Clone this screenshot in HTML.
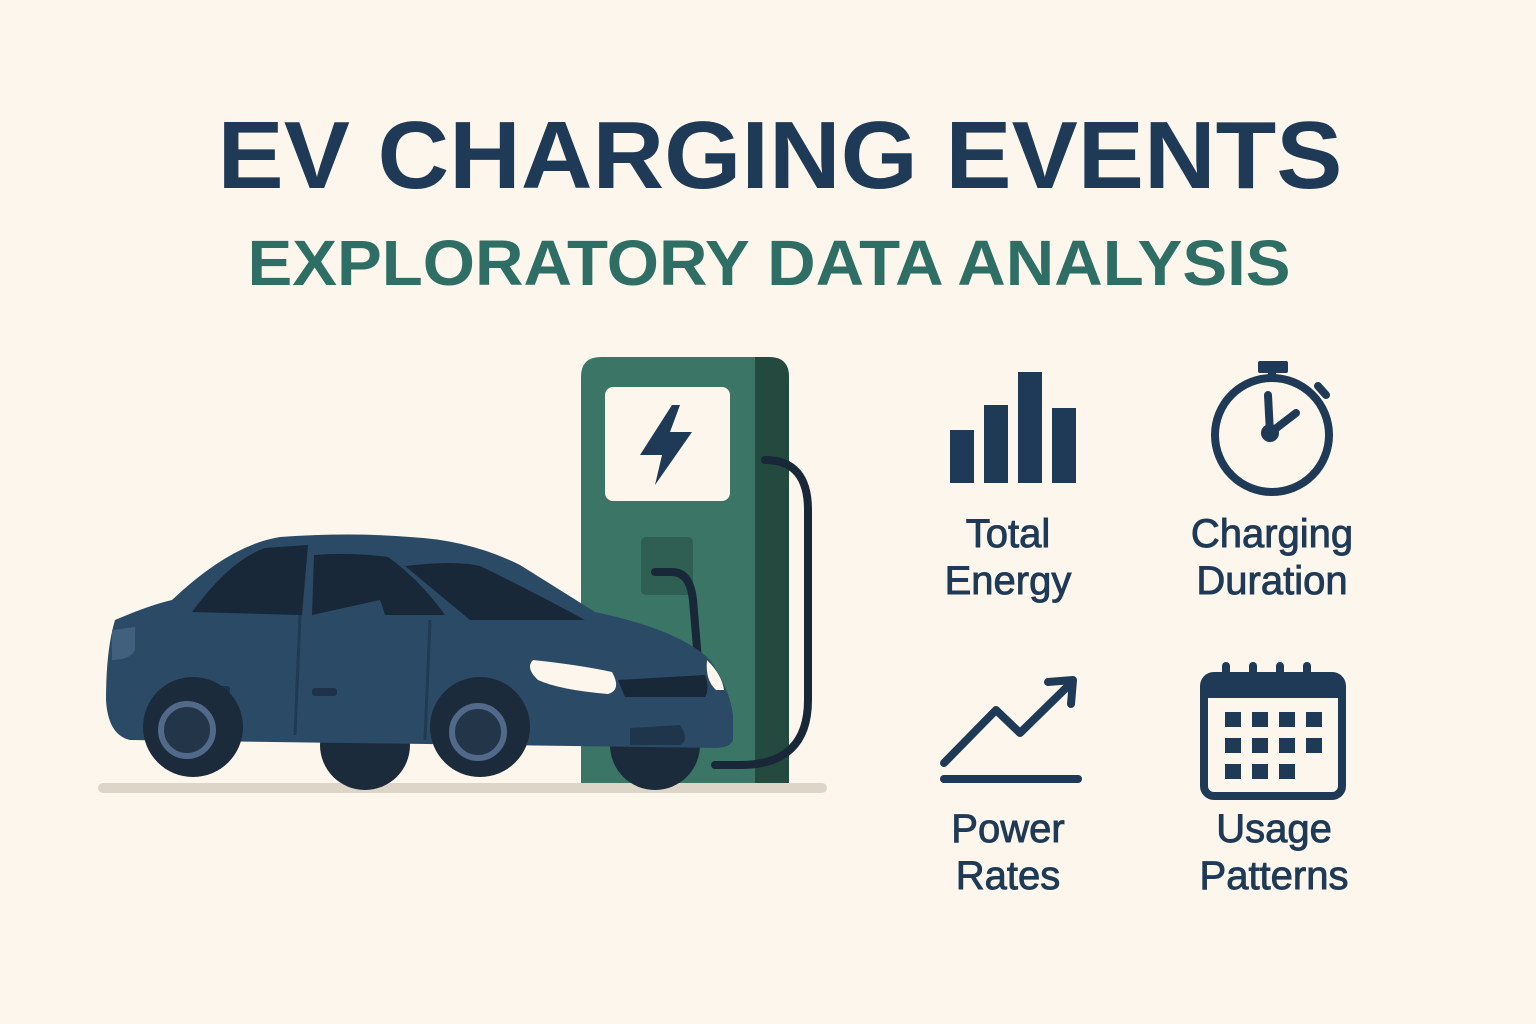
<!DOCTYPE html>
<html><head><meta charset="utf-8"><style>
body{margin:0;background:#fcf6ec;}
svg{display:block}
text{font-family:"Liberation Sans","DejaVu Sans",sans-serif}
.lbl{stroke:#1f3a56;stroke-width:0.9px}
</style></head><body>
<svg width="1536" height="1024" viewBox="0 0 1536 1024">
<rect width="1536" height="1024" fill="#fcf6ec"/>
<text x="780" y="188" text-anchor="middle" font-size="96" font-weight="bold" fill="#1f3a56" textLength="1125" lengthAdjust="spacingAndGlyphs">EV CHARGING EVENTS</text>
<text x="769" y="285" text-anchor="middle" font-size="64" font-weight="bold" fill="#2f6e64" textLength="1043" lengthAdjust="spacingAndGlyphs">EXPLORATORY DATA ANALYSIS</text>

<rect x="98" y="783" width="729" height="10" rx="5" fill="#ddd6c8"/>

<g>
<path d="M601 357 H769 Q789 357 789 377 V783 H581 V377 Q581 357 601 357Z" fill="#3a7566"/>
<path d="M755 357 H769 Q789 357 789 377 V783 H755Z" fill="#24493f"/>
<rect x="605" y="387" width="125" height="114" rx="8" fill="#fcf6ec"/>
<path d="M672 405 L640 455 L662 455 L655 485 L692 432 L670 432 L680 405Z" fill="#1f3a56"/>
<rect x="641" y="537" width="52" height="58" rx="5" fill="#2e5f52"/>
<path d="M655 572 H672 Q690 572 693 600 L698 660" fill="none" stroke="#182838" stroke-width="8" stroke-linecap="round"/>
<path d="M765 460 Q808 460 808 510 V700 Q808 765 740 765 L715 765" fill="none" stroke="#182838" stroke-width="8" stroke-linecap="round"/>
</g>

<g>
<circle cx="365" cy="745" r="45" fill="#1b2b3b"/>
<circle cx="655" cy="745" r="45" fill="#1b2b3b"/>
<path d="M115 620 Q150 605 172 600 Q230 545 280 537 Q350 532 410 537 Q470 540 520 565 Q560 590 595 612 Q680 630 710 660 Q730 690 733 715 L733 740 Q730 748 715 748 L130 740 Q108 735 106 700 Q106 650 115 620Z" fill="#2b4a66"/>
<path d="M192 612 Q230 560 265 548 L308 545 L302 615Z" fill="#182838"/>
<path d="M314 555 Q350 552 388 557 Q420 580 445 615 L385 615 Q382 605 380 600 L312 615Z" fill="#182838"/>
<path d="M405 566 Q455 560 480 566 Q530 590 585 620 L470 620Z" fill="#182838"/>
<path d="M300 615 L295 735 M430 620 L425 740" stroke="#203a52" stroke-width="3" fill="none"/>
<rect x="205" y="686" width="25" height="8" rx="3" fill="#1e3349"/>
<rect x="312" y="688" width="25" height="8" rx="3" fill="#1e3349"/>
<path d="M533 660 Q580 665 612 672 Q622 690 608 694 Q560 690 538 680 Q525 668 533 660Z" fill="#fcf6ec"/>
<path d="M707 660 Q722 675 724 690 L716 690 Q705 680 707 660Z" fill="#fcf6ec"/>
<path d="M618 680 L705 675 Q710 688 705 697 L625 697Z" fill="#182838"/>
<path d="M112 630 L135 627 L135 650 Q130 660 112 660Z" fill="#40607e"/>
<path d="M630 728 L680 725 Q690 740 680 745 L630 745Z" fill="#1f354c"/>
<circle cx="193" cy="727" r="50" fill="#1b2b3b"/>
<circle cx="187" cy="730" r="26" fill="#233548" stroke="#52698a" stroke-width="6"/>
<circle cx="480" cy="727" r="50" fill="#1b2b3b"/>
<circle cx="478" cy="732" r="26" fill="#233548" stroke="#52698a" stroke-width="6"/>
</g>

<g fill="#1f3a56" id="bars"></g>
<text class="lbl" x="1008" y="547" text-anchor="middle" font-size="40" fill="#1f3a56">Total</text>
<text class="lbl" x="1008" y="594" text-anchor="middle" font-size="40" fill="#1f3a56">Energy</text>

<g stroke="#1f3a56" fill="none" stroke-width="8" stroke-linecap="round">
<circle cx="1272" cy="435" r="57"/>
<rect x="1258" y="361" width="30" height="12" rx="2" fill="#1f3a56" stroke="none"/>
<line x1="1272" y1="373" x2="1272" y2="378"/>
<line x1="1318" y1="386" x2="1326" y2="395"/>
<line x1="1270" y1="433" x2="1268" y2="395"/>
<line x1="1270" y1="433" x2="1296" y2="413"/>
<circle cx="1270" cy="433" r="5" fill="#1f3a56"/>
</g>
<text class="lbl" x="1272" y="547" text-anchor="middle" font-size="40" fill="#1f3a56">Charging</text>
<text class="lbl" x="1272" y="594" text-anchor="middle" font-size="40" fill="#1f3a56">Duration</text>

<g stroke="#1f3a56" fill="none" stroke-width="8" stroke-linecap="round" stroke-linejoin="round">
<line x1="944" y1="779" x2="1078" y2="779"/>
<polyline points="944,763 996,710 1020,733 1068,686"/>
<polyline points="1048,682 1073,680 1071,704"/>
</g>
<text class="lbl" x="1008" y="842" text-anchor="middle" font-size="40" fill="#1f3a56">Power</text>
<text class="lbl" x="1008" y="889" text-anchor="middle" font-size="40" fill="#1f3a56">Rates</text>

<g>
<rect x="1204" y="676" width="138" height="120" rx="10" fill="none" stroke="#1f3a56" stroke-width="8"/>
<rect x="1204" y="676" width="138" height="22" fill="#1f3a56"/>
<g fill="#1f3a56" id="cal"></g>
</g>
<text class="lbl" x="1274" y="842" text-anchor="middle" font-size="40" fill="#1f3a56">Usage</text>
<text class="lbl" x="1274" y="889" text-anchor="middle" font-size="40" fill="#1f3a56">Patterns</text>
</svg>
<script>
const barHeights=[53,78,111,75];
const barX=[950,984,1018,1052];
const g=document.getElementById('bars');
barHeights.forEach((h,i)=>{const r=document.createElementNS('http://www.w3.org/2000/svg','rect');
r.setAttribute('x',barX[i]);r.setAttribute('y',483-h);r.setAttribute('width',24);r.setAttribute('height',h);


g.appendChild(r);});
const cal=document.getElementById('cal');
const NS='http://www.w3.org/2000/svg';
[1220,1247,1274,1301].forEach(x=>{const t=document.createElementNS(NS,'rect');t.setAttribute('x',x+2);t.setAttribute('y',662);t.setAttribute('width',8);t.setAttribute('height',20);t.setAttribute('rx',4);


cal.appendChild(t);});
for(let r=0;r<3;r++)for(let c=0;c<4;c++){if(r==2&&c==3)continue;const s=document.createElementNS(NS,'rect');
s.setAttribute('x',1225+c*27);s.setAttribute('y',712+r*26);s.setAttribute('width',16);s.setAttribute('height',15);


cal.appendChild(s);}
</script>
</body></html>
